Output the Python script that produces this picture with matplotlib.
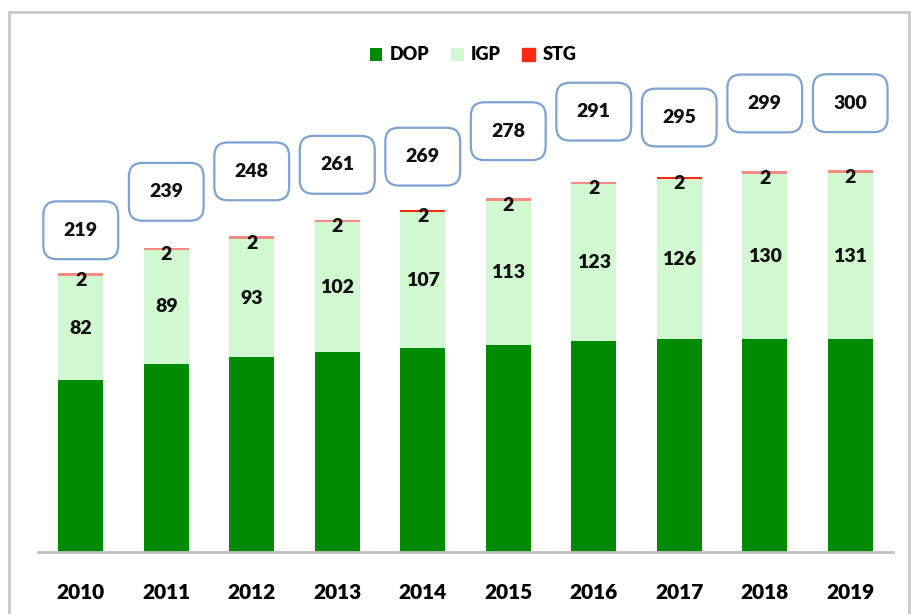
import matplotlib.pyplot as plt
from matplotlib.patches import Rectangle
import numpy as np

# Data
years = ["2010", "2011", "2012", "2013", "2014", "2015", "2016", "2017", "2018", "2019"]
dop = [135, 148, 153, 157, 160, 163, 166, 167, 167, 167]
igp = [82, 89, 93, 102, 107, 113, 123, 126, 130, 131]
stg = [2, 2, 2, 2, 2, 2, 2, 2, 2, 2]
totals = [219, 239, 248, 261, 269, 278, 291, 295, 299, 300]

# box label offsets above bar tops (pixels, hand placed like the original)
box_offsets = [43, 56, 65, 55, 53, 67, 70, 59, 68, 67]
# the red cap looks stronger on a couple of years
stg_colors = ["#f58a80", "#f58a80", "#f58a80", "#f58a80", "#ff2a10",
              "#f58a80", "#f58a80", "#ff2a10", "#f58a80", "#f58a80"]

plt.rcParams["font.family"] = ["Lato", "DejaVu Sans"]

fig = plt.figure(figsize=(9.11, 6.14), dpi=100)
ax = fig.add_axes([38 / 911, 62 / 614, 855 / 911, 532 / 614])

x = np.arange(len(years))
bottoms_igp = np.array(dop)
bottoms_stg = bottoms_igp + np.array(igp)

ax.bar(x, dop, width=0.53, color="#008a00", label="DOP")
ax.bar(x, igp, width=0.53, bottom=bottoms_igp, color="#d2f8d2", label="IGP")
ax.bar(x, stg, width=0.53, bottom=bottoms_stg, color=stg_colors, label="STG")

ax.set_xlim(-0.5, 9.5)
ax.set_ylim(0, 418)

txt = dict(fontsize=14, fontweight="heavy", color="#111111")
for i in range(len(years)):
    # IGP value in the middle of the light segment
    ax.text(x[i], dop[i] + igp[i] / 2, str(igp[i]), ha="center", va="center", **txt)
    # STG value just under the top
    top = dop[i] + igp[i] + stg[i]
    ax.annotate(str(stg[i]), (x[i], top), xytext=(0, -7), textcoords="offset pixels",
                ha="center", va="center", **txt)
    # total in rounded box
    ax.annotate(str(totals[i]), (x[i], top), xytext=(0, box_offsets[i]),
                textcoords="offset pixels", ha="center", va="center",
                bbox=dict(boxstyle="round,pad=1.05,rounding_size=0.7",
                          fc="white", ec="#7fa3d1", lw=1.6), **txt)

for s in ["top", "right", "left"]:
    ax.spines[s].set_visible(False)
ax.spines["bottom"].set_color("#c0c0c0")
ax.spines["bottom"].set_linewidth(2)
ax.set_yticks([])
ax.set_xticks(x)
ax.set_xticklabels(years, fontsize=15, fontweight="heavy")
ax.tick_params(axis="x", length=0, pad=22)

handles, labels = ax.get_legend_handles_labels()
handles[2] = Rectangle((0, 0), 1, 1, color="#ff2a10")
fig.legend(handles, labels, loc="center", bbox_to_anchor=(473 / 911, 1 - 55 / 614),
           ncol=3, frameon=False, handlelength=0.7, handleheight=0.7,
           handletextpad=0.4, columnspacing=1.2,
           prop={"weight": "heavy", "size": 13})

# outer chart frame
fig.patches.append(Rectangle((9 / 911, -0.05), 900 / 911, 1.05 - 12 / 614,
                             transform=fig.transFigure, fill=False,
                             ec="#c8c8c8", lw=2))

fig.savefig("out.png", dpi=100)
